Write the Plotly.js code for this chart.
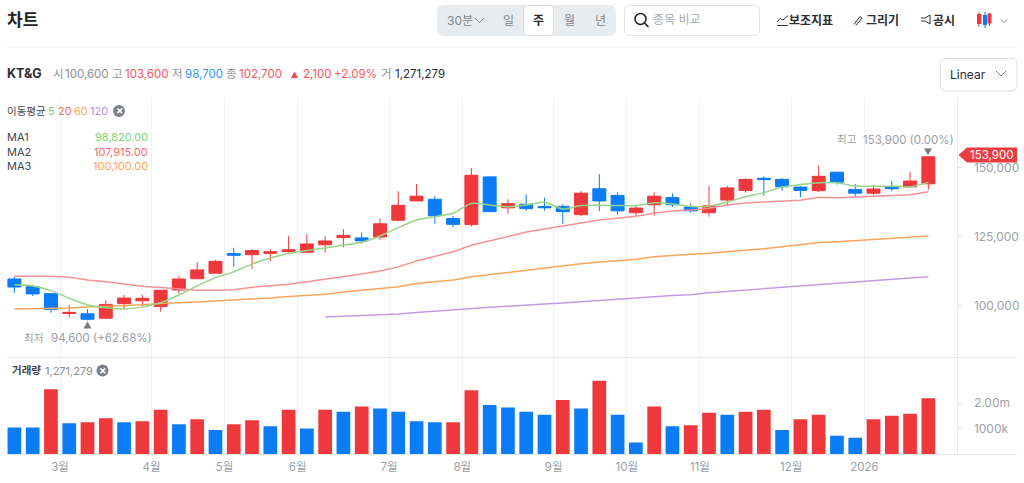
<!DOCTYPE html>
<html><head><meta charset="utf-8">
<script src="https://cdn.plot.ly/plotly-3.0.1.min.js"></script>
<style>html,body{margin:0;padding:0;background:#fff}#c{width:1024px;height:483px}</style>
</head><body><div id="c"></div>
<script>
const openPrice=[109600,106800,104300,97100,97000,95400,100700,101700,99600,105600,109700,111700,118800,118400,118900,119500,119300,122000,124600,124500,124800,130900,137900,138500,131500,129300,146600,135400,136700,135900,135900,132900,142300,139900,133600,136500,139100,135700,133600,138200,141700,146100,145700,142900,141600,148300,142000,140700,143000,143000,144100];
const highPrice=[110400,107500,104500,100100,98700,102000,103800,103800,105500,110700,115700,116500,120900,120400,120400,125200,125900,125200,127700,126500,131500,141400,144000,139700,132400,149800,146600,138500,140300,139100,136700,141400,147600,141000,136200,141000,140700,137000,143300,143300,146100,146800,146100,143300,150800,148300,144000,143700,145100,148400,153900];
const lowPrice=[104600,103400,97400,95700,94600,95000,98700,99400,97800,104400,109500,111700,114100,113300,116100,119100,119100,119100,121100,122400,123800,130400,137900,129600,128400,128600,134000,133300,134300,134300,129600,132400,134200,132900,132400,132500,135700,133600,132200,136300,140900,139800,141600,139200,141100,143800,139300,140000,141400,142800,142000];
const closePrice=[106700,104200,98600,97500,95000,100400,102700,102600,105500,109600,112900,116000,118200,119900,119500,120200,122300,123400,125400,123400,129600,136300,139600,132500,129400,147200,134000,136900,135100,135400,134000,140700,137900,134300,135300,139600,136500,134300,136100,142600,145700,145600,143000,141700,146800,144700,140700,142200,142300,145100,153900];
const ma5=[107500,107100,105400,102600,100200,99200,98700,99500,101000,103800,107100,110100,112200,115000,117200,118800,119900,120800,121900,122900,125200,128200,131000,132200,133400,137000,136400,135800,136400,137500,134900,136200,136300,136200,136200,137200,136800,135900,136000,137500,139400,140900,142900,143800,144500,144500,143300,143200,143200,143000,144600];
const ma20=[110600,110600,110600,110200,109200,108600,107800,107000,106500,105900,105500,105500,105700,106600,107100,107700,108600,109500,110300,111400,112500,114000,116100,117700,119500,121800,123400,125200,126600,127700,128700,129900,131000,131600,132300,133400,134200,134600,135200,136400,137100,137500,137800,138100,139200,139000,139300,139600,139800,140100,141200];
const ma60=[98700,98800,98900,99100,99500,99700,100000,100300,100700,100900,101300,101600,101900,102400,102700,103300,103700,104100,104900,105500,106200,106800,108000,108600,109200,110400,111200,112000,112900,113600,114300,115100,115800,116400,116800,117700,118200,118600,118900,119400,120000,120600,121300,122000,122800,123100,123500,123800,124200,124700,125200];
const ma120=[null,null,null,null,null,null,null,null,null,null,null,null,null,null,null,null,null,95800,96100,96500,96700,96900,97500,98000,98500,98800,99400,99700,100200,100500,100900,101400,101700,102200,102700,103200,103600,103900,104600,105100,105600,106100,106600,107200,107700,108000,108500,109000,109500,110000,110400];
const volume=[1050000,1050000,2550000,1210000,1250000,1410000,1250000,1290000,1750000,1170000,1370000,950000,1170000,1330000,1090000,1750000,1010000,1750000,1670000,1870000,1790000,1670000,1290000,1250000,1250000,2510000,1930000,1830000,1670000,1550000,2130000,1790000,2890000,1550000,450000,1870000,1090000,1130000,1630000,1550000,1670000,1750000,950000,1370000,1550000,720000,640000,1370000,1510000,1590000,2200000];
const volumeUp=[0,0,1,0,1,1,0,1,1,0,1,0,1,1,0,1,0,1,0,1,0,0,0,0,1,1,0,0,0,0,1,0,1,0,0,1,0,1,1,0,1,1,0,1,1,0,0,1,1,1,1];
const monthTickAt=[2.5,7.5,11.5,15.5,20.5,24.5,29.5,33.5,37.5,42.5,46.5];
const monthLabels=['3월','4월','5월','6월','7월','8월','9월','10월','11월','12월','2026'];
const priceTicks=[100000,125000,150000];
const priceLabels=['100,000','125,000','150,000'];
const volumeTicks=[1000000,2000000];
const volumeLabels=['1000k','2.00m'];

const idx=openPrice.map((_,i)=>i);
const RED='#ef383c',BLUE='#0a7cf6',FONT='Inter, "Noto Sans CJK KR", sans-serif';
const X=p=>p/1024,Y=p=>1-p/483;
const traces=[
 {type:'candlestick',x:idx,open:openPrice,high:highPrice,low:lowPrice,close:closePrice,xaxis:'x',yaxis:'y',whiskerwidth:0,
  increasing:{line:{color:RED,width:1},fillcolor:RED},decreasing:{line:{color:BLUE,width:1},fillcolor:BLUE},opacity:1,hoverinfo:'skip'},
 {type:'scatter',mode:'lines',x:idx,y:ma120,yaxis:'y',line:{color:'#c39be3',width:1.5},hoverinfo:'skip'},
 {type:'scatter',mode:'lines',x:idx,y:ma60,yaxis:'y',line:{color:'#f7a75a',width:1.5},hoverinfo:'skip'},
 {type:'scatter',mode:'lines',x:idx,y:ma20,yaxis:'y',line:{color:'#f49296',width:1.5},hoverinfo:'skip'},
 {type:'scatter',mode:'lines',x:idx,y:ma5,yaxis:'y',line:{color:'#97d486',width:1.5,shape:'spline',smoothing:0.5},hoverinfo:'skip'},
 {type:'bar',x:idx,y:volume,xaxis:'x',yaxis:'y2',marker:{color:volumeUp.map(u=>u?RED:BLUE),line:{width:0}},hoverinfo:'skip'}
];
function rr(x0,y0,x1,y1,r,fill,line){
 const p=`M${X(x0+r)},${Y(y0)}L${X(x1-r)},${Y(y0)}Q${X(x1)},${Y(y0)} ${X(x1)},${Y(y0+r)}L${X(x1)},${Y(y1-r)}Q${X(x1)},${Y(y1)} ${X(x1-r)},${Y(y1)}L${X(x0+r)},${Y(y1)}Q${X(x0)},${Y(y1)} ${X(x0)},${Y(y1-r)}L${X(x0)},${Y(y0+r)}Q${X(x0)},${Y(y0)} ${X(x0+r)},${Y(y0)}Z`;
 return {type:'path',xref:'paper',yref:'paper',path:p,fillcolor:fill||'rgba(0,0,0,0)',line:{color:line||'rgba(0,0,0,0)',width:line?1:0}};
}
function poly(pts,fill,line,w){
 let p=pts.map((q,i)=>(i?'L':'M')+X(q[0])+','+Y(q[1])).join('');
 if(fill)p+='Z';
 return {type:'path',xref:'paper',yref:'paper',path:p,fillcolor:fill||'rgba(0,0,0,0)',line:{color:line||'rgba(0,0,0,0)',width:line?(w||1):0}};
}
function circ(cx,cy,r,fill,line){return {type:'circle',xref:'paper',yref:'paper',x0:X(cx-r),x1:X(cx+r),y0:Y(cy+r),y1:Y(cy-r),fillcolor:fill||'rgba(0,0,0,0)',line:{color:line||'rgba(0,0,0,0)',width:line?1.5:0}};}
const chev=(x,y,w,h,c)=>poly([[x,y],[x+w/2,y+h],[x+w,y]],null,c,1);
const shapes=[
 poly([[7,47.5],[1017,47.5]],null,'#f2f3f4',1),
 poly([[7,357.5],[1017,357.5]],null,'#e8e9eb',1),
 poly([[7,454.5],[1017,454.5]],null,'#e8e9eb',1),
 rr(437,5,616,36,7,'#e9ecef'),
 rr(523.5,5.5,553.5,35.5,4,'#ffffff','#d9dbde'),
 chev(475,18,9,4.5,'#8a8f96'),
 rr(624.5,5.5,759.5,35.5,6,'#ffffff','#e0e2e5'),
 circ(640.5,19,5.5,null,'#1f2124'),
 poly([[644.5,23],[648.5,27]],null,'#1f2124',1.6),
 rr(940.5,58.5,1017,91,6,'#ffffff','#dcdee1'),
 chev(996,71,10,5,'#7b8087'),
 poly([[777,25.5],[788,25.5]],null,'#333',1),
 poly([[777,22],[780,18.5],[783,20],[788,15.5]],null,'#333',1),
 poly([[854,24.5],[860,16.5],[862,18],[856,25.5]],null,'#333',1),
 poly([[921,18],[925,18],[930,15],[930,24],[925,21],[921,21]],null,'#333',1),
 rr(977,14,981.5,24,0.5,RED), poly([[979,12],[979,27]],null,RED,1),
 rr(983,15,987,25,0.5,BLUE), poly([[985,12],[985,28]],null,BLUE,1),
 rr(987.5,13.5,991.5,23.5,0.5,RED), poly([[989.5,13],[989.5,26]],null,RED,1),
 chev(1001,19.5,6,3,'#7b8087'),
 circ(119,111,6,'#7d8087'), circ(102.5,370.5,6,'#7d8087'),
 poly([[924,148.5],[932,148.5],[928,155]],'#777a80'),
 poly([[83.5,328.5],[91.5,328.5],[87.5,321.5]],'#777a80'),
 poly([[958.5,155],[967,147.5],[1017,147.5],[1017,162.5],[967,162.5]],'#ee3b3f'),
 poly([[291,78],[298,78],[294.5,71.5]],'#f0484c')
];
const D='#2b2d31',G='#8b8f96',R2='#f5575a',B2='#3b93f7',LG='#9ca1a9';
const notes=[
 ['차트',7,20,17,'#1f2124',true],
 ['30분',447,20,12,'#7f858c'],['일',508,20,12,'#7f858c',false,'center'],['주',538.5,20,12,'#25272b',true,'center'],['월',569,20,12,'#7f858c',false,'center'],['년',600,20,12,'#7f858c',false,'center'],
 ['종목 비교',653,19.5,12,'#a7abb2'],
 ['보조지표',789,20,12,D,true],['그리기',866,20,12,D,true],['공시',933,20,12,D,true],
 ['KT&G',7,73.5,12.5,D,true],
 ['시',53,73.5,11.5,G],['100,600',65,73.5,11.5,G],['고',112,73.5,11.5,G],['103,600',125,73.5,11.5,R2],['저',172,73.5,11.5,G],['98,700',185,73.5,11.5,B2],['종',226,73.5,11.5,G],['102,700',239,73.5,11.5,R2],
 ['2,100',303,73.5,11.5,R2],['+2.09%',334,73.5,11.5,R2],['거',381,73.5,11.5,G],['1,271,279',395,73.5,11.5,D],
 ['Linear',950,74,12,D],
 ['이동평균',7,111,10.5,'#44474c'],['5',48,111,11,'#7fd36a'],['20',58,111,11,'#f96a6a'],['60',74,111,11,'#ffa553'],['120',90,111,11,'#b48ce8'],
 ['×',119,110.5,11,'#ffffff',true,'center'],
 ['MA1',7,137,11,'#44474c'],['MA2',7,151.5,11,'#44474c'],['MA3',7,166,11,'#44474c'],
 ['98,820.00',148,137,11,'#84d36f',false,'right'],['107,915.00',148,151.5,11,'#f76b6e',false,'right'],['100,100.00',148,166,11,'#ffa553',false,'right'],
 ['최고',837,140,10.5,'#9a9ea5'],['153,900 (0.00%)',863,140,11.5,'#9a9ea5'],
 ['최저',24,338,10.5,'#9a9ea5'],['94,600 (+62.68%)',51,338,11.5,'#9a9ea5'],
 ['153,900',1013,155,11.5,'#ffffff',false,'right'],
 ['거래량',12,370.5,10.5,'#44474c',true],['1,271,279',45,370.5,11,'#8b8f96'],['×',102.5,370,11,'#ffffff',true,'center']
];
const annotations=notes.map(n=>({xref:'paper',yref:'paper',x:X(n[1]),y:Y(n[2]),text:n[5]?'<b>'+n[0]+'</b>':n[0],showarrow:false,xanchor:n[6]||'left',yanchor:'middle',borderpad:0,borderwidth:0,font:{family:FONT,size:n[3],color:n[4]}}));
const layout={
 width:1024,height:483,autosize:false,margin:{l:0,r:0,t:0,b:0},paper_bgcolor:'#fff',plot_bgcolor:'#fff',
 showlegend:false,hovermode:false,boxgap:0.29,boxgroupgap:0,bargap:0.25,font:{family:FONT},
 xaxis:{domain:[X(7),X(956.5)],range:[-0.405,51.54],anchor:'y2',tickmode:'array',tickvals:monthTickAt,ticktext:monthLabels,showgrid:true,gridcolor:'#f0f1f3',gridwidth:1,ticks:'',showline:false,zeroline:false,rangeslider:{visible:false},tickfont:{family:FONT,size:11.5,color:LG},ticklabelstandoff:4},
 yaxis:{domain:[Y(357),Y(97)],range:[81341,175543],side:'right',anchor:'x',showgrid:false,zeroline:false,showline:true,linecolor:'#e9eaec',tickmode:'array',tickvals:priceTicks,ticktext:priceLabels,ticks:'outside',ticklen:4,tickcolor:'#e6e7e9',tickfont:{family:FONT,size:12,color:LG},ticklabelstandoff:10},
 yaxis2:{domain:[Y(454),Y(357)],range:[0,3826000],side:'right',anchor:'x',showgrid:false,zeroline:false,showline:true,linecolor:'#e9eaec',tickmode:'array',tickvals:volumeTicks,ticktext:volumeLabels,ticks:'outside',ticklen:4,tickcolor:'#e6e7e9',tickfont:{family:FONT,size:12,color:LG},ticklabelstandoff:10},
 shapes,annotations
};
Plotly.newPlot('c',traces,layout,{displayModeBar:false,staticPlot:true,responsive:false});
</script></body></html>
